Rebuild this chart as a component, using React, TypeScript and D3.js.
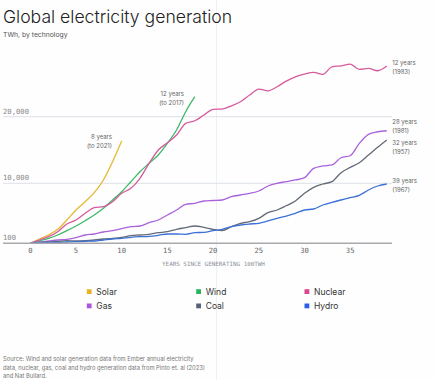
import React from "react";
import * as d3 from "d3";

const solar = [100, 810, 1470, 2410, 3945, 5595, 6964, 8450, 10500, 13240, 16350];
const wind = [100, 529, 925, 1470, 2179, 2955, 3829, 4770, 5875, 7245, 8614, 10240, 11740, 13000, 14245, 16000, 18000, 20750, 23000];
const nuclear = [100, 645, 1190, 2014, 3285, 3945, 5050, 5974, 6140, 6964, 8350, 9175, 10750, 13000, 15000, 16090, 17245, 19000, 19390, 20250, 21100, 21150, 21640, 22240, 23245, 24150, 23890, 24490, 25350, 25990, 26400, 26650, 26350, 27490, 27640, 27900, 27100, 27250, 26900, 27600];
const gas = [100, 315, 480, 645, 760, 1025, 1470, 1635, 1965, 2180, 2510, 2840, 2955, 3500, 3945, 4770, 5595, 6535, 6700, 7080, 7160, 7245, 7790, 8070, 8350, 8730, 9555, 10000, 10240, 10500, 10840, 12250, 12600, 12750, 13840, 14140, 16000, 17350, 17740, 17890];
const coal = [100, 265, 315, 430, 530, 480, 530, 645, 810, 925, 1090, 1355, 1470, 1585, 1850, 2015, 2410, 2675, 2955, 2740, 2410, 2210, 2840, 3400, 3665, 4225, 5150, 5595, 6300, 7080, 8350, 9340, 9885, 10240, 11590, 12400, 13090, 14245, 15400, 16500];
const hydro = [100, 200, 265, 265, 315, 365, 430, 480, 645, 810, 925, 1090, 1190, 1255, 1420, 1635, 1635, 1585, 1850, 1915, 2180, 2410, 2840, 3120, 3285, 3400, 3780, 4225, 4600, 5050, 5595, 5760, 6420, 6865, 7245, 7625, 8020, 8895, 9555, 9885];

const xTicks = [0, 5, 10, 15, 20, 25, 30, 35];
const yTicks = [100, 10000, 20000];
const yTickLabels = ["100", "10,000", "20,000"];

const seriesNames = ["Solar", "Wind", "Nuclear", "Gas", "Coal", "Hydro"];
const lineColors = ["#e6b732", "#3dba68", "#d65a9c", "#a962dc", "#646b78", "#3d70d6"];
const legendColors = ["#e8b323", "#2db35b", "#e0438f", "#a956e0", "#58617a", "#2a5fe3"];
const seriesData = [solar, wind, nuclear, gas, coal, hydro];

const endLabels = [
  { a: "12 years", b: "(1983)" },
  { a: "28 years", b: "(1981)" },
  { a: "32 years", b: "(1957)" },
  { a: "39 years", b: "(1967)" },
];

export default function App() {
  const W = 434;
  const H = 380;
  const x = d3.scaleLinear().domain([0, 35]).range([30.3, 350.2]);
  const y = d3.scaleLinear().domain([100, 10000, 20000]).range([243.3, 183.3, 116.7]);
  const line = d3
    .line<number>()
    .x((_, i) => x(i))
    .y((d) => y(d))
    .curve(d3.curveMonotoneX);

  const mono = "'DejaVu Sans Mono', monospace";
  const sans = "Inter, 'Noto Sans', sans-serif";
  const endY = [64.5, 123.5, 145, 182.5];

  return (
    <svg
      width={W}
      height={H}
      style={{ position: "absolute", left: 0, top: 0, background: "#fff" }}
      fontFamily={sans}
    >
      <rect x={0} y={0} width={W} height={H} fill="#fefefe" />
      <line x1={216.5} x2={216.5} y1={0} y2={H} stroke="#eef0f6" strokeWidth={1} />
      <text x={3} y={22.5} fontSize={17.6} fontWeight={300} fill="#222">
        Global electricity generation
      </text>
      <text x={3} y={36.5} fontSize={6.8} fill="#555">
        TWh, by technology
      </text>

      {yTicks.map((t, i) =>
        i === 0 ? null : (
          <line key={"g" + t} x1={3} x2={392} y1={y(t)} y2={y(t)} stroke="#dde0e6" strokeWidth={1} />
        )
      )}
      {yTicks.map((t, i) => (
        <text key={"yl" + t} x={3} y={y(t) - 3} fontSize={7.2} fontFamily={mono} fill="#888">
          {yTickLabels[i]}
        </text>
      ))}

      {seriesData.map((d, i) => (
        <path key={seriesNames[i]} d={line(d) || ""} fill="none" stroke={lineColors[i]} strokeWidth={1.3} />
      ))}

      <line x1={3} x2={392} y1={y(100)} y2={y(100)} stroke="#a9a9ad" strokeWidth={1.6} />
      {xTicks.map((t) => (
        <text key={"xl" + t} x={x(t)} y={253} fontSize={7.2} fontFamily={mono} fill="#666" textAnchor="middle">
          {t}
        </text>
      ))}
      <text x={213.5} y={266.3} fontSize={5.9} fontFamily={mono} fill="#8a8f99" textAnchor="middle">
        YEARS SINCE GENERATING 100TWH
      </text>

      <g fontSize={6} fill="#666">
        <text x={112} y={138.8} textAnchor="end">8 years</text>
        <text x={112} y={147.8} textAnchor="end">(to 2021)</text>
        <text x={184} y={95.5} textAnchor="end">12 years</text>
        <text x={184} y={104.5} textAnchor="end">(to 2017)</text>
        {endLabels.map((e, i) => (
          <g key={e.a + e.b}>
            <text x={392.3} y={endY[i]}>{e.a}</text>
            <text x={392.3} y={endY[i] + 9.3}>{e.b}</text>
          </g>
        ))}
      </g>

      {seriesNames.map((n, i) => {
        const col = i % 3;
        const row = Math.floor(i / 3);
        const lx = [87.3, 196.7, 305][col];
        const ly = [291.7, 306][row];
        return (
          <g key={"lg" + n}>
            <rect x={lx - 0.5} y={ly - 2.5} width={4.8} height={4.8} fill={legendColors[i]} />
            <text x={lx + 9} y={ly + 3} fontSize={8.5} fill="#333">
              {n}
            </text>
          </g>
        );
      })}

      <g fontSize={5.8} fill="#777">
        <text x={3} y={361}>Source: Wind and solar generation data from Ember annual electricity</text>
        <text x={3} y={369.6}>data, nuclear, gas, coal and hydro generation data from Pinto et. al (2023)</text>
        <text x={3} y={378}>and Nat Bullard.</text>
      </g>
    </svg>
  );
}
